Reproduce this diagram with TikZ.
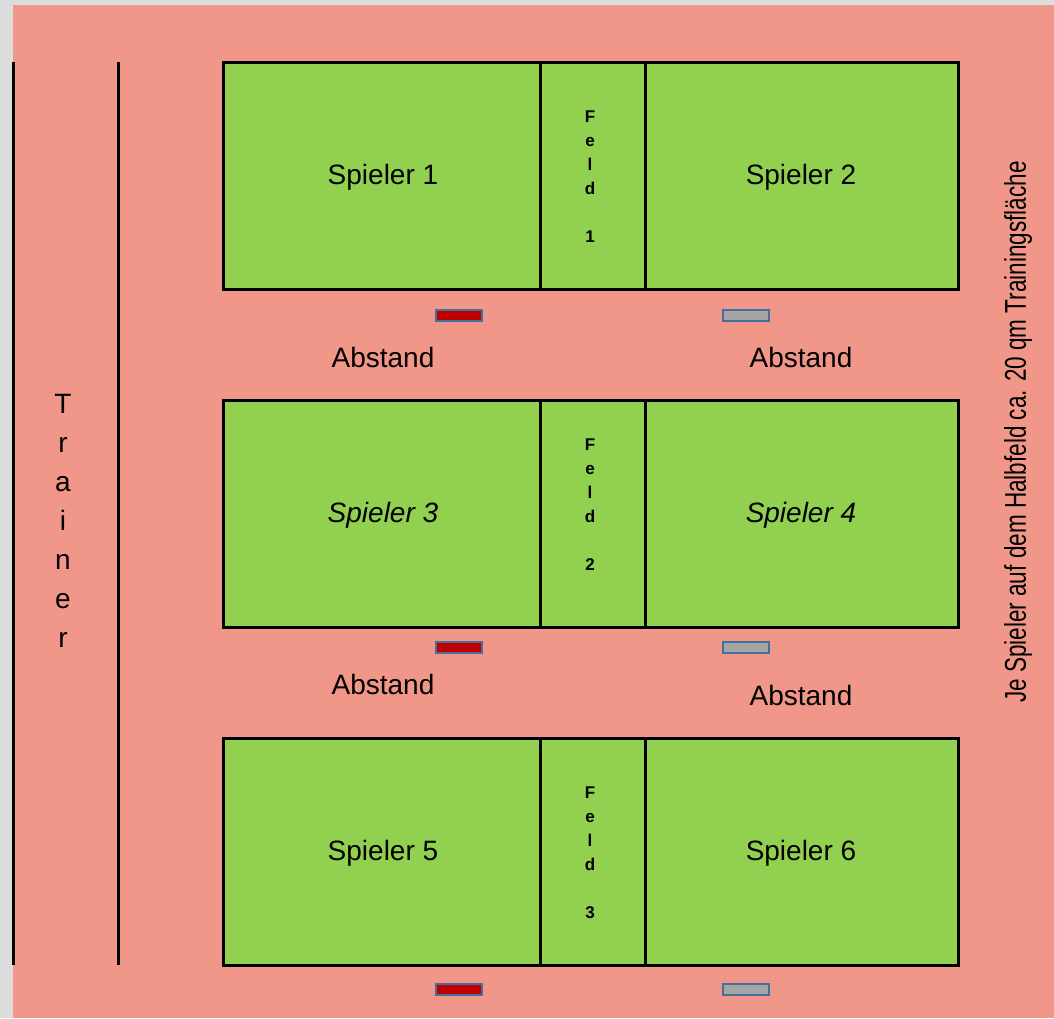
\documentclass[tikz,border=0pt]{standalone}
\usepackage{fontspec}
\setmainfont{Liberation Sans}
\definecolor{lachs}{HTML}{F0978A}
\definecolor{rasen}{HTML}{92D050}
\definecolor{rahmen}{HTML}{DCDCDC}
\definecolor{netzrot}{HTML}{C00000}
\definecolor{netzgrau}{HTML}{A5A5A5}
\definecolor{netzrand}{HTML}{41719C}
\tikzset{
	feldrand/.style={draw=black, line width=1.5pt, fill=rasen},
	linie/.style={line width=1.5pt},
	marke/.style={draw=netzrand, line width=1pt},
	schrift/.style={font=\fontsize{14}{19.5}\selectfont, anchor=center},
	feldname/.style={font=\bfseries\fontsize{8.5}{12}\selectfont, align=center, anchor=center}
}

\begin{document}
\begin{tikzpicture}[x=0.5pt, y=-0.5pt]
	\useasboundingbox (0,0) rectangle (1054,1018);
	\fill[rahmen] (0,0) rectangle (1054,1018);
	\fill[lachs] (13,5) rectangle (1054,1018);
	% Linien links
	\draw[linie] (13,62) -- (13,965);
	\draw[linie] (118,62) -- (118,965);
	% drei Felder
	\foreach \y in {62, 400, 738} {
		\draw[feldrand] (223,\y) rectangle (958,\y+227);
		\draw[linie] (540,\y) -- (540,\y+227);
		\draw[linie] (645,\y) -- (645,\y+227);
	}
	% Marken unter den Feldern
	\foreach \y in {310, 642, 984} {
		\draw[marke, fill=netzrot] (436,\y) rectangle (482,\y+11);
		\draw[marke, fill=netzgrau] (723,\y) rectangle (769,\y+11);
	}
	\node(s1)[schrift] at (383,177) {Spieler 1};
	\node(s2)[schrift] at (801,177) {Spieler 2};
	\node(s3)[schrift] at (383,515) {\itshape Spieler 3};
	\node(s4)[schrift] at (801,515) {\itshape Spieler 4};
	\node(s5)[schrift] at (383,853) {Spieler 5};
	\node(s6)[schrift] at (801,853) {Spieler 6};
	\node(f1)[feldname] at (590,177) {F\\e\\l\\d\\[12pt]1};
	\node(f2)[feldname] at (590,505) {F\\e\\l\\d\\[12pt]2};
	\node(f3)[feldname] at (590,853) {F\\e\\l\\d\\[12pt]3};
	\node(a1)[schrift] at (383,357) {Abstand};
	\node(a2)[schrift] at (801,357) {Abstand};
	\node(a3)[schrift] at (383,684) {Abstand};
	\node(a4)[schrift] at (801,695) {Abstand};
	\node(trainer)[schrift, align=center] at (63,521) {T\\r\\a\\i\\n\\e\\r};
	\node(info)[schrift, font=\fontsize{15}{18}\selectfont, rotate=90] at (1018,432) {\scalebox{0.75}[1]{Je Spieler auf dem Halbfeld ca. 20 qm Trainingsfläche}};
\end{tikzpicture}
\end{document}
